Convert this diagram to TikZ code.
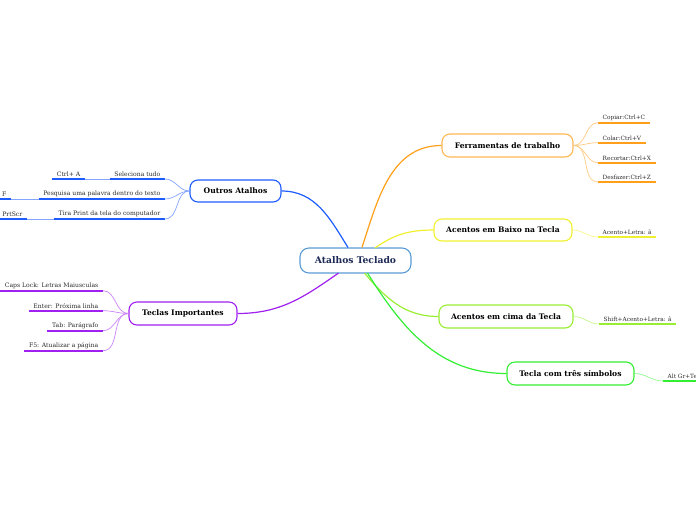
\documentclass[tikz,border=0pt]{standalone}
\usepackage{fontspec}
\setmainfont{DejaVu Serif}
\usetikzlibrary{calc}
\definecolor{cblue}{HTML}{1F5CFF}
\definecolor{corange}{HTML}{FF9F1A}
\definecolor{cyellow}{HTML}{F0F030}
\definecolor{clime}{HTML}{99EE33}
\definecolor{cgreen}{HTML}{33EE33}
\definecolor{cpurple}{HTML}{A020F0}
\definecolor{ccenter}{HTML}{5B9BD5}
\definecolor{cnavy}{HTML}{1C2A55}
\definecolor{leaftext}{HTML}{2A2A2A}
\tikzset{
  topic/.style={draw=#1, line width=1.1pt, rounded corners=8pt, fill=white,
    font=\fontsize{7.6}{9}\selectfont\bfseries, inner sep=0pt, text=black},
  leaf/.style={font=\fontsize{6.1}{7}\selectfont, text=leaftext, inner xsep=4.5pt, inner ysep=2pt},
  leafr/.style={leaf, font=\fontsize{5.8}{7}\selectfont},
  ul/.style={draw=#1, line width=1.6pt},
  main/.style={draw=#1, line width=1.2pt},
  sub/.style={draw=#1!55, line width=0.7pt},
}
\begin{document}
\begin{tikzpicture}[x=1pt,y=-1pt]
\useasboundingbox (0,0) rectangle (696,520);
% center
\node[draw=ccenter, line width=1.1pt, rounded corners=9pt, fill=white, minimum width=111pt, minimum height=25pt,
  font=\fontsize{9.2}{11}\selectfont\bfseries, text=cnavy, inner sep=0pt] (c) at (355.5,260.5) {Atalhos Teclado};
% branches
\node[topic=corange!75, minimum width=131pt, minimum height=23pt] (fer) at (507.5,145.5) {Ferramentas de trabalho};
\node[topic=cyellow, minimum width=138pt, minimum height=22pt] (bai) at (503,230) {Acentos em Baixo na Tecla};
\node[topic=clime, minimum width=134pt, minimum height=23pt] (cim) at (506,316.5) {Acentos em cima da Tecla};
\node[topic=cgreen, minimum width=127pt, minimum height=23pt] (tre) at (570.5,373.5) {Tecla com três símbolos};
\node[topic=cblue, minimum width=91pt, minimum height=22pt] (out) at (235.5,191) {Outros Atalhos};
\node[topic=cpurple, minimum width=108pt, minimum height=23pt] (imp) at (183,313.5) {Teclas Importantes};
% start coordinates on the center node
\coordinate (sb) at ($(c.north)+(-7.5,0)$);
\coordinate (so) at ($(c.north)+(6.5,0)$);
\coordinate (sy) at ($(c.north)+(19.5,0.5)$);
\coordinate (sp) at ($(c.south)+(-17,-0.5)$);
\coordinate (sl) at ($(c.south)+(9,-0.5)$);
\coordinate (sg) at ($(c.south)+(12,-0.5)$);
% main connectors
\draw[main=cblue] (sb) to[out=122,in=0] (out.east);
\draw[main=corange] (so) to[out=72,in=180] (fer.west);
\draw[main=cyellow] (sy) to[out=35,in=180] (bai.west);
\draw[main=cpurple] (sp) to[out=215,in=0] (imp.east);
\draw[main=clime] (sl) to[out=-50,in=180] (cim.west);
\draw[main=cgreen] (sg) to[out=-58,in=180] (tre.west);
% Ferramentas leaves
\node[leafr, anchor=south west] (f1) at (598,122.7) {Copiar:Ctrl+C};
\node[leafr, anchor=south west] (f2) at (598,142.7) {Colar:Ctrl+V};
\node[leafr, anchor=south west] (f3) at (598,162.7) {Recortar:Ctrl+X};
\node[leafr, anchor=south west] (f4) at (598,182) {Desfazer:Ctrl+Z};
\foreach \n in {f1,f2,f3,f4}{
  \draw[ul=corange] (\n.south west) -- (\n.south east);
  \draw[sub=corange] (fer.east) to[out=0,in=180] (\n.south west);
}
% Acentos leaves
\node[leafr, anchor=south west] (b1) at (598,237) {Acento+Letra: ã};
\draw[ul=cyellow] (b1.south west) -- (b1.south east);
\draw[sub=cyellow] (bai.east) to[out=0,in=180] (b1.south west);
\node[leafr, anchor=south west] (m1) at (599,324) {Shift+Acento+Letra: â};
\draw[ul=clime] (m1.south west) -- (m1.south east);
\draw[sub=clime] (cim.east) to[out=0,in=180] (m1.south west);
\node[leafr, anchor=south west] (t1) at (663,381) {Alt Gr+Tecla};
\draw[ul=cgreen] (t1.south west) -- (t1.south east);
\draw[sub=cgreen] (tre.east) to[out=0,in=180] (t1.south west);
% Outros leaves
\node[leaf, anchor=south east] (o1) at (165,179) {Seleciona tudo};
\node[leaf, anchor=south east] (o1a) at (85,179) {Ctrl+ A};
\node[leaf, anchor=south east] (o2) at (165,199) {Pesquisa uma palavra dentro do texto};
\node[leaf, anchor=south east] (o2a) at (11,199) {Ctrl+ F};
\node[leaf, anchor=south east] (o3) at (165,219) {Tira Print da tela do computador};
\node[leaf, anchor=south east] (o3a) at (27,219) {PrtScr};
\foreach \n in {o1,o2,o3}{
  \draw[ul=cblue] (\n.south west) -- (\n.south east);
  \draw[sub=cblue] (out.west) to[out=180,in=0] (\n.south east);
}
\foreach \n/\p in {o1a/o1,o2a/o2,o3a/o3}{
  \draw[ul=cblue] (\n.south west) -- (\n.south east);
  \draw[sub=cblue] (\p.south west) -- (\n.south east);
}
% Teclas leaves
\node[leaf, anchor=south east] (i1) at (103,290.7) {Caps Lock: Letras Maiusculas};
\node[leaf, anchor=south east] (i2) at (103,310.7) {Enter: Próxima linha};
\node[leaf, anchor=south east] (i3) at (103,330.7) {Tab: Parágrafo};
\node[leaf, anchor=south east] (i4) at (103,350.7) {F5: Atualizar a página};
\foreach \n in {i1,i2,i3,i4}{
  \draw[ul=cpurple] (\n.south west) -- (\n.south east);
  \draw[sub=cpurple] (imp.west) to[out=180,in=0] (\n.south east);
}
\end{tikzpicture}
\end{document}
